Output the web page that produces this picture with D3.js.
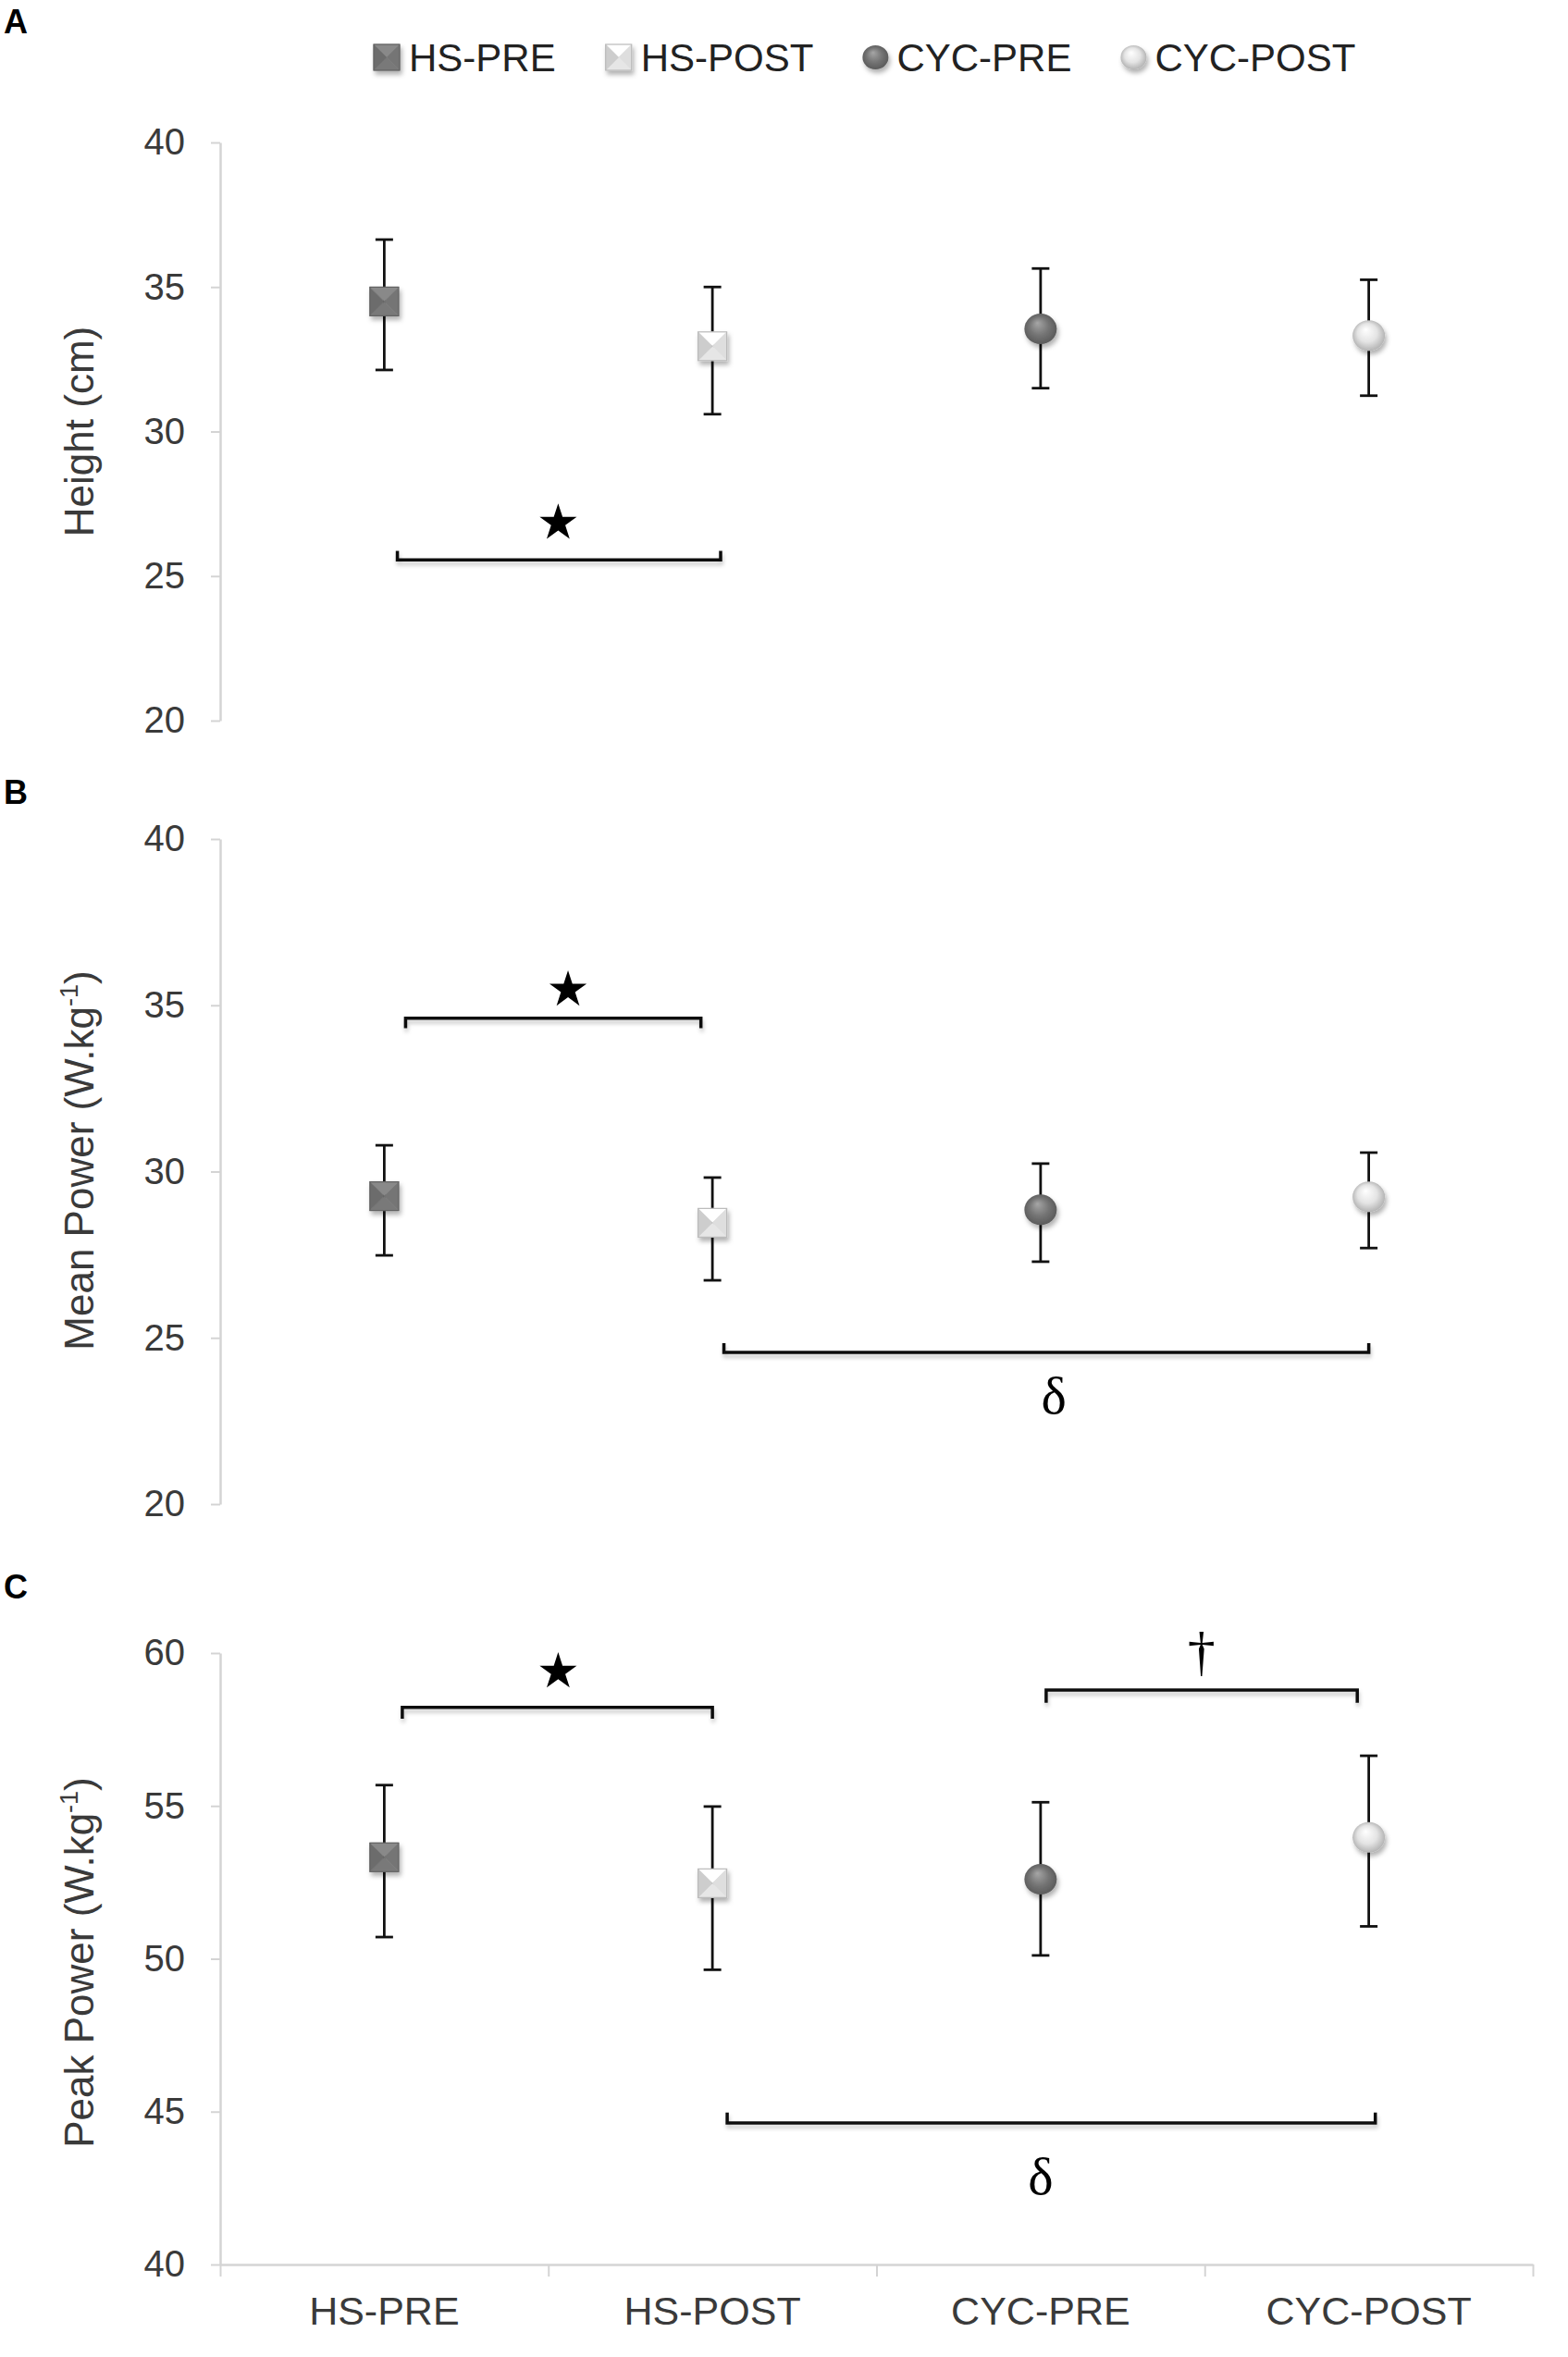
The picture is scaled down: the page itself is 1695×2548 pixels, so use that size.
<!DOCTYPE html>
<html>
<head>
<meta charset="utf-8">
<script src="https://cdn.jsdelivr.net/npm/d3@7/dist/d3.min.js"></script>
<style>
  body { margin: 0; background: #fff; }
  svg { display: block; font-family: "Liberation Sans", Arial, sans-serif; }
</style>
</head>
<body>
<div id="chart"></div>
<script>
// ---- data ----
const categories = ["HS-PRE", "HS-POST", "CYC-PRE", "CYC-POST"];

const heightMean = [34.5, 32.95, 33.55, 33.32];
const heightLow  = [32.13, 30.6, 31.5, 31.24];
const heightHigh = [36.64, 35.0, 35.64, 35.25];

const meanPowerMean = [29.26, 28.46, 28.85, 29.24];
const meanPowerLow  = [27.48, 26.73, 27.29, 27.7];
const meanPowerHigh = [30.79, 29.82, 30.24, 30.57];

const peakPowerMean = [53.32, 52.47, 52.6, 53.97];
const peakPowerLow  = [50.71, 49.64, 50.11, 51.06];
const peakPowerHigh = [55.68, 54.98, 55.12, 56.64];

const heightTicks = [20, 25, 30, 35, 40];
const meanPowerTicks = [20, 25, 30, 35, 40];
const peakPowerTicks = [40, 45, 50, 55, 60];

// significance brackets: positions in category-index units, levels in data units
const heightBrackets = [
  { from: 0.04, to: 1.025, level: 25.56, end: 25.87, mark: "star", markAt: 0.53, markLevel: 26.9 }
];
const meanPowerBrackets = [
  { from: 0.065, to: 0.965, level: 34.61, end: 34.31, mark: "star", markAt: 0.56, markLevel: 35.52 },
  { from: 1.035, to: 3.0, level: 24.56, end: 24.84, mark: "δ", markAt: 2.04, markLevel: 23.25 }
];
const peakPowerBrackets = [
  { from: 0.055, to: 1.0, level: 58.22, end: 57.85, mark: "star", markAt: 0.53, markLevel: 59.45 },
  { from: 2.017, to: 2.965, level: 58.79, end: 58.37, mark: "†", markAt: 2.49, markLevel: 60.0 },
  { from: 1.045, to: 3.02, level: 44.63, end: 44.97, mark: "δ", markAt: 2.0, markLevel: 42.87 }
];

// ---- layout ----
const width = 1695, height = 2548;
const x0 = 238, x1 = 1657;

const panels = [
  { letter: "A", letterY: 36, top: 154, bottom: 779, domain: [20, 40], ticks: heightTicks,
    label: ["Height (cm)"], labelShift: 0, mean: heightMean, low: heightLow, high: heightHigh,
    brackets: heightBrackets, xAxis: false },
  { letter: "B", letterY: 869, top: 907, bottom: 1626, domain: [20, 40], ticks: meanPowerTicks,
    label: ["Mean Power (W.kg", "-1", ")"], labelShift: -12, mean: meanPowerMean, low: meanPowerLow, high: meanPowerHigh,
    brackets: meanPowerBrackets, xAxis: false },
  { letter: "C", letterY: 1728, top: 1787, bottom: 2448, domain: [40, 60], ticks: peakPowerTicks,
    label: ["Peak Power (W.kg", "-1", ")"], labelShift: 4, mean: peakPowerMean, low: peakPowerLow, high: peakPowerHigh,
    brackets: peakPowerBrackets, xAxis: true }
];

const markerStyle = {
  "HS-PRE":   { shape: "square", base: "#717171" },
  "HS-POST":  { shape: "square", base: "#d6d6d6" },
  "CYC-PRE":  { shape: "circle", base: "#747474" },
  "CYC-POST": { shape: "circle", base: "#e4e4e4" }
};

const svg = d3.select("#chart").append("svg")
  .attr("width", width)
  .attr("height", height);

const defs = svg.append("defs");

const shadow = defs.append("filter")
  .attr("id", "shadow")
  .attr("x", "-50%").attr("y", "-50%")
  .attr("width", "200%").attr("height", "200%");
shadow.append("feDropShadow")
  .attr("dx", 2).attr("dy", 4)
  .attr("stdDeviation", 2.5)
  .attr("flood-color", "#000")
  .attr("flood-opacity", 0.3);

const lineShadow = defs.append("filter")
  .attr("id", "lineShadow")
  .attr("x", "-10%").attr("y", "-100%")
  .attr("width", "120%").attr("height", "300%");
lineShadow.append("feDropShadow")
  .attr("dx", 1).attr("dy", 4)
  .attr("stdDeviation", 2)
  .attr("flood-color", "#000")
  .attr("flood-opacity", 0.22);

// radial gradients for the round markers
categories.forEach((c, i) => {
  const st = markerStyle[c];
  if (st.shape !== "circle") return;
  const base = d3.color(st.base);
  const grad = defs.append("radialGradient")
    .attr("id", "grad" + i)
    .attr("cx", "50%").attr("cy", "50%").attr("r", "55%")
    .attr("fx", "40%").attr("fy", "30%");
  grad.append("stop").attr("offset", "0%").attr("stop-color", base.brighter(1.0));
  grad.append("stop").attr("offset", "55%").attr("stop-color", base);
  grad.append("stop").attr("offset", "100%").attr("stop-color", base.darker(0.8));
});

function drawMarker(g, i, cx, cy, size) {
  const st = markerStyle[categories[i]];
  const m = g.append("g")
    .attr("transform", `translate(${cx},${cy})`)
    .attr("filter", "url(#shadow)");
  if (st.shape === "square") {
    const h = size / 2;
    const base = d3.color(st.base);
    const faces = [
      { pts: [[-h, -h], [h, -h], [0, 0]], fill: base.brighter(0.55) },
      { pts: [[h, -h], [h, h], [0, 0]], fill: base.brighter(0.1) },
      { pts: [[h, h], [-h, h], [0, 0]], fill: base.brighter(0.2) },
      { pts: [[-h, h], [-h, -h], [0, 0]], fill: base.darker(0.12) }
    ];
    m.selectAll("path").data(faces).join("path")
      .attr("d", d => d3.line()(d.pts) + "Z")
      .attr("fill", d => d.fill)
      .attr("stroke", d => d.fill)
      .attr("stroke-width", 0.5);
    m.append("rect")
      .attr("x", -h).attr("y", -h)
      .attr("width", size).attr("height", size)
      .attr("fill", "none")
      .attr("stroke", base.darker(0.4))
      .attr("stroke-width", 1.2);
  } else {
    m.append("ellipse")
      .attr("rx", size / 2 + 1)
      .attr("ry", size / 2)
      .attr("fill", `url(#grad${i})`);
  }
}

// ---- legend ----
const legend = svg.append("g").attr("class", "legend");
let lx = 404;
const ly = 62;
categories.forEach((c, i) => {
  const isSquare = markerStyle[c].shape === "square";
  const msize = isSquare ? 28 : 26;
  drawMarker(legend, i, lx + msize / 2, ly, msize);
  const t = legend.append("text")
    .attr("x", lx + msize + 10)
    .attr("y", ly)
    .attr("dy", "0.36em")
    .attr("font-size", 42)
    .attr("fill", "#222")
    .text(c);
  lx += msize + 10 + t.node().getComputedTextLength() + 54;
});

// ---- panels ----
const xBand = d3.scaleBand().domain(categories).range([x0, x1]);
const xPos = d3.scaleLinear()
  .domain([-0.5, categories.length - 0.5])
  .range([x0, x1]);

panels.forEach(p => {
  const g = svg.append("g").attr("class", "panel-" + p.letter);
  const y = d3.scaleLinear().domain(p.domain).range([p.bottom, p.top]);

  g.append("text")
    .attr("x", 4)
    .attr("y", p.letterY)
    .attr("font-size", 36)
    .attr("font-weight", "bold")
    .attr("fill", "#000")
    .text(p.letter);

  // y axis
  const yAxis = g.append("g")
    .attr("transform", `translate(${x0},0)`)
    .call(d3.axisLeft(y).tickValues(p.ticks).tickSize(10).tickSizeOuter(0).tickPadding(28));
  yAxis.select(".domain").attr("stroke", "#d4d4d4").attr("stroke-width", 2.5);
  yAxis.selectAll(".tick line").attr("stroke", "#d4d4d4").attr("stroke-width", 2);
  yAxis.selectAll(".tick text")
    .attr("font-size", 40)
    .attr("font-family", "'Liberation Sans', Arial, sans-serif")
    .attr("fill", "#3a3a3a");

  // y label
  const lab = g.append("text")
    .attr("transform", `translate(86,${(p.top + p.bottom) / 2 + p.labelShift}) rotate(-90)`)
    .attr("text-anchor", "middle")
    .attr("dy", "0.35em")
    .attr("font-size", 44)
    .attr("fill", "#3a3a3a");
  lab.append("tspan").text(p.label[0]);
  if (p.label.length > 1) {
    lab.append("tspan").attr("font-size", 27).attr("dy", -17).text(p.label[1]);
    lab.append("tspan").attr("dy", 17).text(p.label[2]);
  }

  // x axis only on the last panel
  if (p.xAxis) {
    const xAxis = g.append("g")
      .attr("transform", `translate(0,${p.bottom})`)
      .call(d3.axisBottom(xPos)
        .tickValues(d3.range(-0.5, categories.length, 1))
        .tickSize(13).tickSizeOuter(0).tickFormat(""));
    xAxis.select(".domain").attr("stroke", "#d4d4d4").attr("stroke-width", 2.5);
    xAxis.selectAll(".tick line").attr("stroke", "#d4d4d4").attr("stroke-width", 2);

    const xLabels = g.append("g")
      .attr("transform", `translate(0,${p.bottom})`)
      .call(d3.axisBottom(xBand).tickSize(0).tickPadding(34));
    xLabels.select(".domain").remove();
    xLabels.selectAll(".tick text")
      .attr("font-size", 43)
      .attr("font-family", "'Liberation Sans', Arial, sans-serif")
      .attr("fill", "#3a3a3a");
  }

  // error bars
  const eb = g.append("g").attr("class", "errorbars");
  categories.forEach((c, i) => {
    const cx = xBand(c) + xBand.bandwidth() / 2;
    eb.append("line")
      .attr("x1", cx).attr("x2", cx)
      .attr("y1", y(p.low[i])).attr("y2", y(p.high[i]))
      .attr("stroke", "#111").attr("stroke-width", 2.8);
    [p.low[i], p.high[i]].forEach(v => {
      eb.append("line")
        .attr("x1", cx - 9.5).attr("x2", cx + 9.5)
        .attr("y1", y(v)).attr("y2", y(v))
        .attr("stroke", "#111").attr("stroke-width", 2.8);
    });
  });

  // markers
  categories.forEach((c, i) => {
    const cx = xBand(c) + xBand.bandwidth() / 2;
    const size = markerStyle[c].shape === "square" ? 31 : 33;
    drawMarker(g, i, cx, y(p.mean[i]), size);
  });

  // brackets + marks
  p.brackets.forEach(b => {
    const xa = xPos(b.from), xb = xPos(b.to);
    const yl = y(b.level), ye = y(b.end);
    g.append("path")
      .attr("d", `M${xa},${ye}L${xa},${yl}L${xb},${yl}L${xb},${ye}`)
      .attr("fill", "none")
      .attr("stroke", "#111")
      .attr("stroke-width", 3.5)
      .attr("filter", "url(#lineShadow)");

    const mx = xPos(b.markAt), my = y(b.markLevel);
    if (b.mark === "star") {
      g.append("path")
        .attr("d", d3.symbol(d3.symbolStar, 500)())
        .attr("transform", `translate(${mx},${my + 2})`)
        .attr("fill", "#000");
    } else {
      g.append("text")
        .attr("x", mx)
        .attr("y", my)
        .attr("dy", b.mark === "†" ? "0.3em" : "0.33em")
        .attr("text-anchor", "middle")
        .attr("font-family", "'Liberation Serif', 'Times New Roman', serif")
        .attr("font-size", b.mark === "†" ? 60 : 58)
        .attr("fill", "#000")
        .text(b.mark);
    }
  });
});
</script>
</body>
</html>
